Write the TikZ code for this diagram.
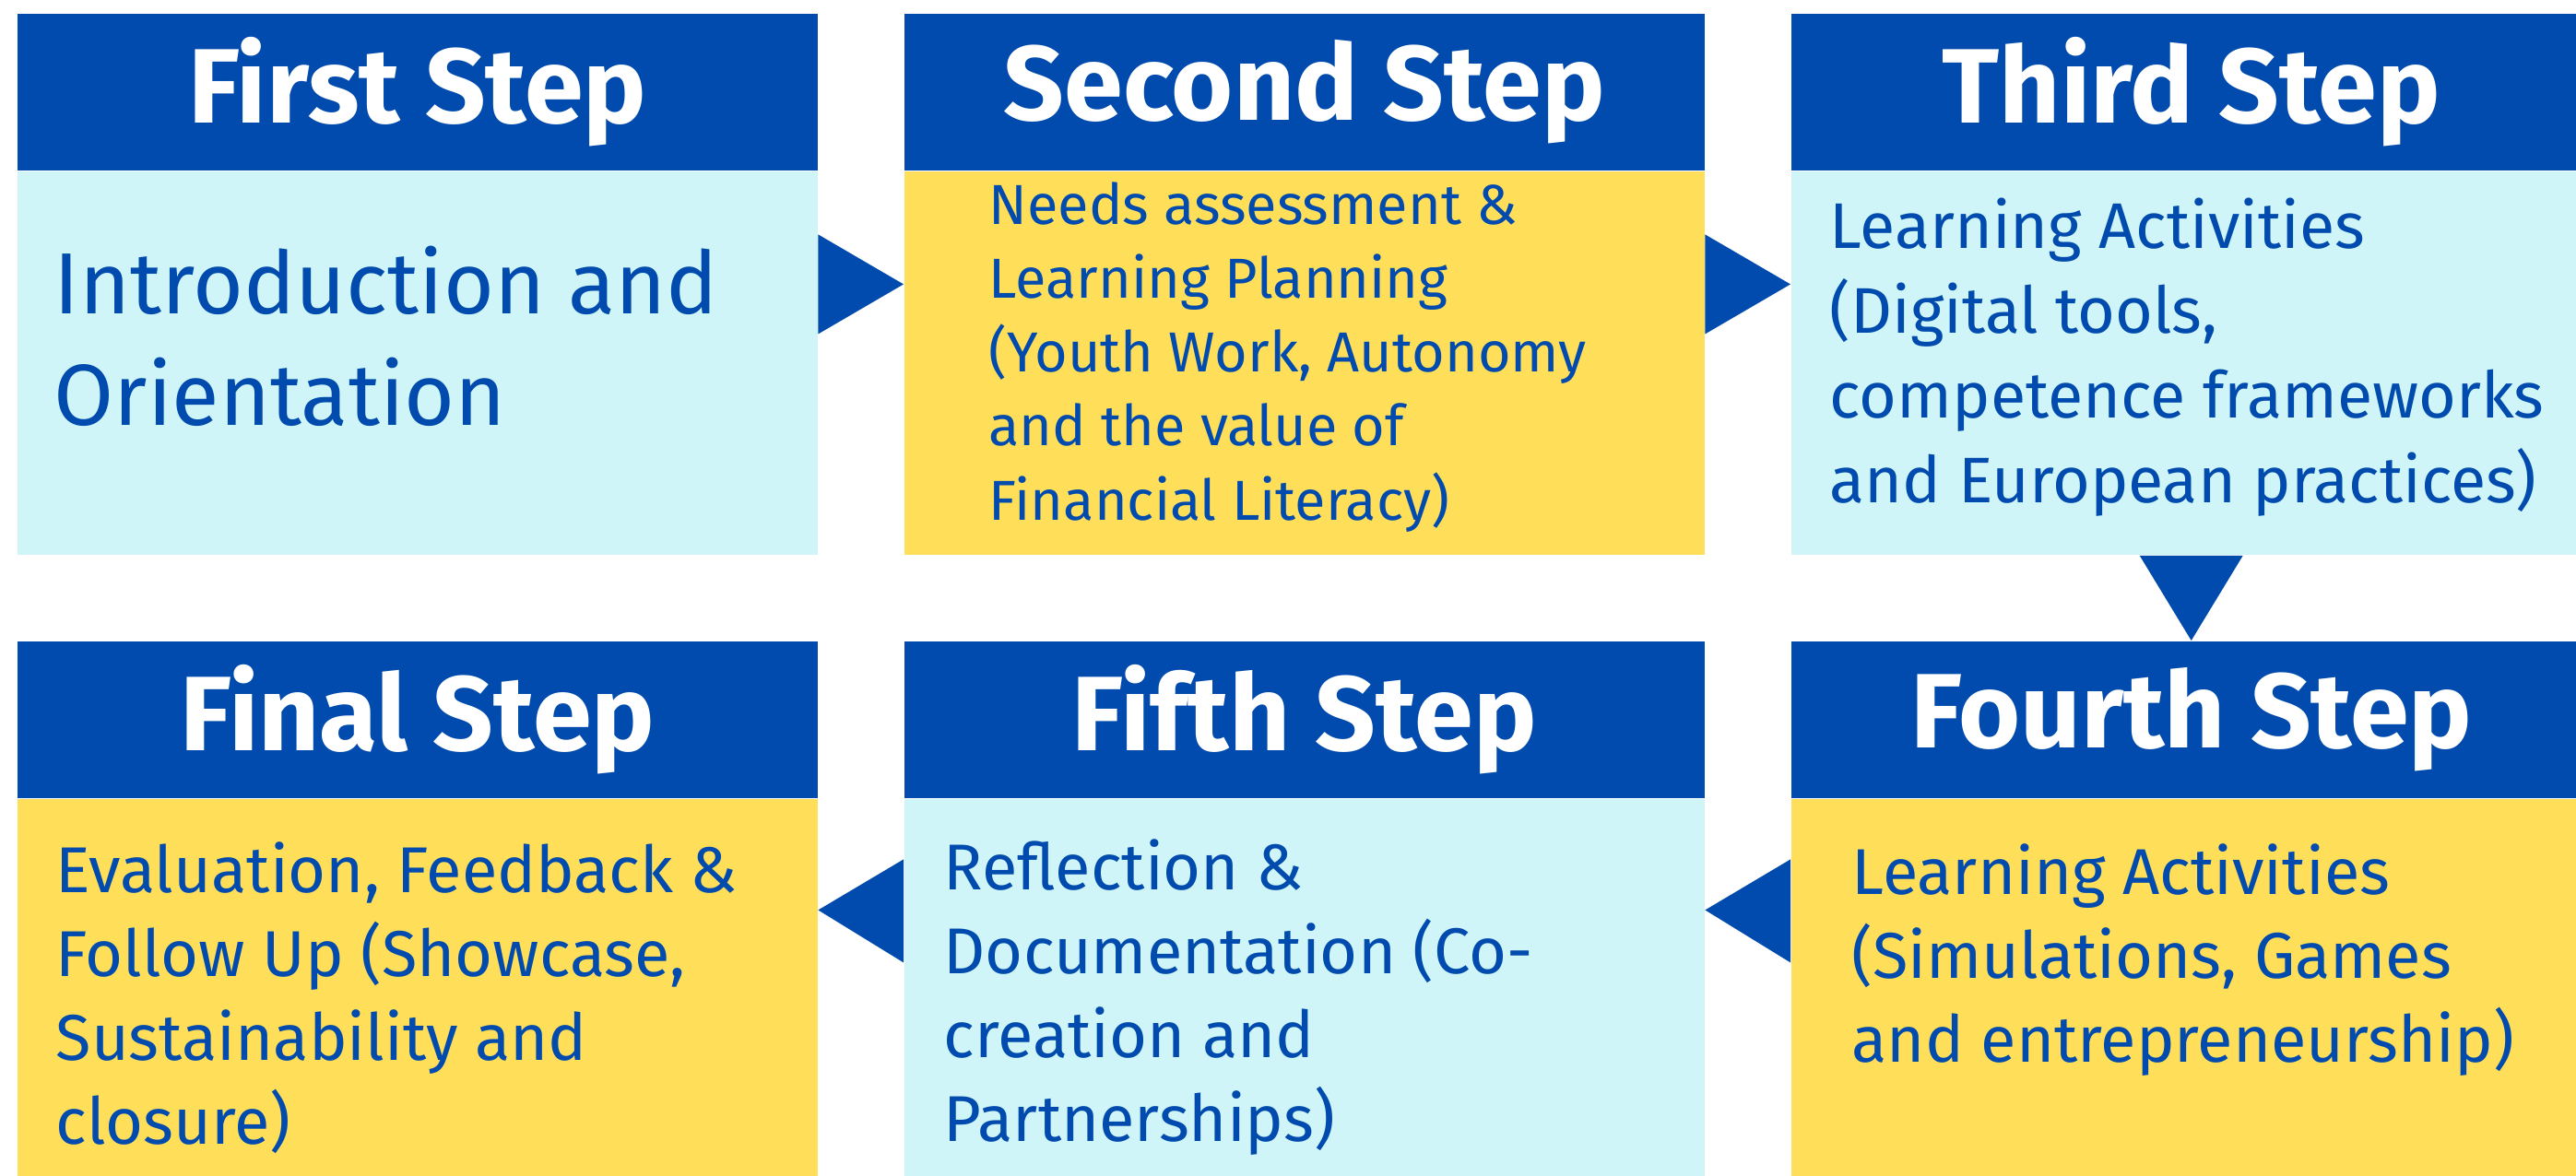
\documentclass[tikz,border=0pt]{standalone}
\usepackage{fontspec}
\setmainfont{Fira Sans}
\usetikzlibrary{calc}

\definecolor{stepblue}{HTML}{004BAD}
\definecolor{stepcyan}{HTML}{CFF5F8}
\definecolor{stepyellow}{HTML}{FFDE59}

\begin{document}
\begin{tikzpicture}[
  head/.style={fill=stepblue, text=white, inner sep=0, anchor=north west,
    minimum width=8.68cm, minimum height=1.70cm,
    font=\fontsize{32.7}{38}\selectfont\bfseries},
  cyanbody/.style={fill=stepcyan, inner sep=0, anchor=north west,
    minimum width=8.68cm, minimum height=4.16cm},
  yellowbody/.style={cyanbody, fill=stepyellow},
  txt/.style={text=stepblue, align=left, anchor=west, inner sep=0},
  tri/.style={fill=stepblue}
]

\useasboundingbox (0,0) rectangle (27.94,-12.75);
\clip (0,0) rectangle (27.94,-12.75);

% top row
\node[head] (h1) at (0.18,-0.14) {First Step};
\node[cyanbody] (b1) at (h1.south west) {};
\node[head] (h2) at (9.80,-0.14) {Second Step};
\node[yellowbody] (b2) at (h2.south west) {};
\node[head] (h3) at (19.42,-0.14) {Third Step};
\node[cyanbody] (b3) at (h3.south west) {};

% bottom row
\node[head] (h4) at (19.42,-6.95) {Fourth Step};
\node[yellowbody] (b4) at (h4.south west) {};
\node[head] (h5) at (9.80,-6.95) {Fifth Step};
\node[cyanbody] (b5) at (h5.south west) {};
\node[head] (h6) at (0.18,-6.95) {Final Step};
\node[yellowbody] (b6) at (h6.south west) {};

% texts
\node[txt, font=\fontsize{26.8}{34.4}\selectfont] (t1) at ($(b1.north west)+(0.40,-1.79)$)
  {Introduction and\\Orientation};
\node[txt, font=\fontsize{17.4}{22.8}\selectfont] (t2) at ($(b2.north west)+(0.92,-2.02)$)
  {Needs assessment \&\\Learning Planning\\(Youth Work, Autonomy\\and the value of\\Financial Literacy)};
\node[txt, font=\fontsize{19.9}{26.2}\selectfont] (t3) at ($(b3.north west)+(0.42,-2.02)$)
  {Learning Activities\\(Digital tools,\\competence frameworks\\and European practices)};
\node[txt, font=\fontsize{20}{25.9}\selectfont] (t4) at ($(b4.north west)+(0.66,-1.75)$)
  {Learning Activities\\(Simulations, Games\\and entrepreneurship)};
\node[txt, font=\fontsize{20}{25.9}\selectfont] (t5) at ($(b5.north west)+(0.43,-2.16)$)
  {Reflection \&\\Documentation (Co-\\creation and\\Partnerships)};
\node[txt, font=\fontsize{20}{25.9}\selectfont] (t6) at ($(b6.north west)+(0.42,-2.16)$)
  {Evaluation, Feedback \&\\Follow Up (Showcase,\\Sustainability and\\closure)};

% arrows
\fill[tri] ($(b1.north east)+(0,-0.69)$) -- ($(b2.north west)+(0,-1.23)$) -- ($(b1.north east)+(0,-1.77)$) -- cycle;
\fill[tri] ($(b2.north east)+(0,-0.69)$) -- ($(b3.north west)+(0,-1.23)$) -- ($(b2.north east)+(0,-1.77)$) -- cycle;
\fill[tri] ($(b3.south)+(-0.56,0)$) -- (h4.north) -- ($(b3.south)+(0.56,0)$) -- cycle;
\fill[tri] ($(b4.north west)+(0,-0.66)$) -- ($(b5.north east)+(0,-1.21)$) -- ($(b4.north west)+(0,-1.78)$) -- cycle;
\fill[tri] ($(b5.north west)+(0,-0.66)$) -- ($(b6.north east)+(0,-1.21)$) -- ($(b5.north west)+(0,-1.78)$) -- cycle;

\end{tikzpicture}
\end{document}
